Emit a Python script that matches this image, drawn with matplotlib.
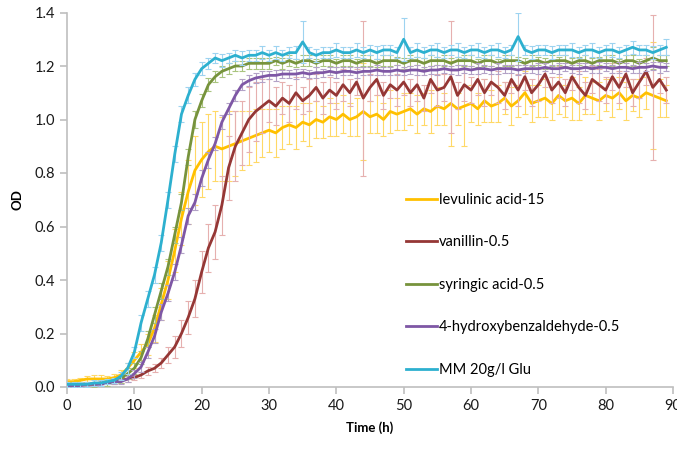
import numpy as np
import matplotlib
matplotlib.use('Agg')
import matplotlib.pyplot as plt

plt.rcParams['font.family'] = ['Lato', 'DejaVu Sans']

# sampling times (h)
hours = list(range(90))

# OD readings, one value per hour
levulinic = [
	0.02, 0.02, 0.025, 0.03, 0.03, 0.03, 0.03, 0.035, 0.045, 0.07,
	0.10, 0.13, 0.16, 0.22, 0.31, 0.40, 0.51, 0.63, 0.73, 0.81,
	0.85, 0.88, 0.90, 0.89, 0.90, 0.91, 0.92, 0.93, 0.94, 0.95,
	0.96, 0.95, 0.97, 0.98, 0.97, 0.99, 0.98, 1.00, 0.99, 1.01,
	1.00, 1.02, 1.00, 1.01, 1.03, 1.01, 1.02, 1.00, 1.03, 1.02,
	1.03, 1.04, 1.02, 1.04, 1.03, 1.05, 1.04, 1.06, 1.04, 1.05,
	1.06, 1.04, 1.07, 1.05, 1.06, 1.08, 1.05, 1.07, 1.10, 1.06,
	1.07, 1.08, 1.06, 1.09, 1.07, 1.08, 1.06, 1.09, 1.08, 1.07,
	1.09, 1.08, 1.10, 1.07, 1.09, 1.08, 1.10, 1.09, 1.08, 1.07]
vanillin = [
	0.01, 0.01, 0.01, 0.012, 0.012, 0.015, 0.015, 0.02, 0.025, 0.03,
	0.035, 0.045, 0.06, 0.07, 0.09, 0.12, 0.15, 0.20, 0.26, 0.33,
	0.43, 0.52, 0.58, 0.68, 0.82, 0.90, 0.95, 1.00, 1.03, 1.05,
	1.07, 1.05, 1.08, 1.06, 1.10, 1.07, 1.09, 1.12, 1.08, 1.11,
	1.09, 1.13, 1.10, 1.14, 1.08, 1.12, 1.15, 1.09, 1.13, 1.11,
	1.14, 1.10, 1.13, 1.08, 1.15, 1.11, 1.12, 1.16, 1.09, 1.13,
	1.11, 1.15, 1.10, 1.14, 1.12, 1.09, 1.15, 1.11, 1.16, 1.10,
	1.13, 1.17, 1.11, 1.14, 1.10, 1.16, 1.12, 1.09, 1.15, 1.13,
	1.11, 1.16, 1.12, 1.17, 1.10, 1.14, 1.18, 1.12, 1.15, 1.11]
syringic = [
	0.01, 0.01, 0.01, 0.01, 0.01, 0.015, 0.015, 0.02, 0.03, 0.05,
	0.07, 0.11, 0.18, 0.27, 0.36, 0.45, 0.57, 0.69, 0.86, 1.00,
	1.07, 1.13, 1.16, 1.18, 1.19, 1.20, 1.20, 1.21, 1.21, 1.21,
	1.21, 1.22, 1.21, 1.22, 1.21, 1.22, 1.22, 1.21, 1.22, 1.22,
	1.21, 1.22, 1.22, 1.21, 1.22, 1.22, 1.21, 1.22, 1.22, 1.22,
	1.21, 1.22, 1.22, 1.21, 1.22, 1.22, 1.22, 1.21, 1.22, 1.22,
	1.22, 1.21, 1.22, 1.22, 1.21, 1.22, 1.22, 1.22, 1.21, 1.22,
	1.22, 1.21, 1.22, 1.22, 1.22, 1.21, 1.22, 1.22, 1.21, 1.22,
	1.22, 1.22, 1.21, 1.22, 1.22, 1.21, 1.22, 1.23, 1.22, 1.22]
hydroxybenz = [
	0.005, 0.005, 0.005, 0.01, 0.01, 0.01, 0.015, 0.02, 0.02, 0.03,
	0.05, 0.075, 0.13, 0.19, 0.28, 0.35, 0.43, 0.53, 0.64, 0.69,
	0.78, 0.85, 0.91, 0.99, 1.04, 1.09, 1.13, 1.145, 1.155, 1.16,
	1.165, 1.165, 1.17, 1.17, 1.17, 1.175, 1.17, 1.175, 1.175, 1.18,
	1.175, 1.18, 1.18, 1.175, 1.18, 1.18, 1.185, 1.18, 1.18, 1.185,
	1.18, 1.185, 1.185, 1.18, 1.185, 1.185, 1.19, 1.185, 1.185, 1.19,
	1.185, 1.19, 1.19, 1.185, 1.19, 1.19, 1.19, 1.185, 1.19, 1.19,
	1.19, 1.195, 1.19, 1.19, 1.195, 1.19, 1.19, 1.195, 1.19, 1.195,
	1.195, 1.19, 1.195, 1.195, 1.19, 1.195, 1.195, 1.20, 1.195, 1.195]
mm_glu = [
	0.01, 0.01, 0.01, 0.01, 0.015, 0.015, 0.02, 0.025, 0.04, 0.07,
	0.13, 0.24, 0.33, 0.42, 0.54, 0.70, 0.87, 1.02, 1.09, 1.15,
	1.19, 1.21, 1.23, 1.22, 1.23, 1.24, 1.23, 1.24, 1.24, 1.25,
	1.24, 1.25, 1.24, 1.25, 1.25, 1.29, 1.25, 1.24, 1.25, 1.25,
	1.26, 1.25, 1.25, 1.26, 1.25, 1.26, 1.25, 1.26, 1.26, 1.25,
	1.30, 1.25, 1.26, 1.25, 1.26, 1.26, 1.25, 1.26, 1.26, 1.25,
	1.26, 1.26, 1.25, 1.26, 1.26, 1.25, 1.26, 1.31, 1.26, 1.25,
	1.26, 1.26, 1.25, 1.26, 1.26, 1.26, 1.25, 1.26, 1.26, 1.25,
	1.26, 1.26, 1.25, 1.26, 1.27, 1.26, 1.26, 1.25, 1.26, 1.27]

# standard deviations (error bars)
levulinic_err = [
	0.01, 0.01, 0.01, 0.01, 0.015, 0.015, 0.01, 0.015, 0.02, 0.02,
	0.03, 0.03, 0.04, 0.05, 0.06, 0.07, 0.08, 0.10, 0.12, 0.13,
	0.14, 0.14, 0.13, 0.12, 0.13, 0.12, 0.11, 0.10, 0.10, 0.09,
	0.08, 0.09, 0.08, 0.07, 0.08, 0.07, 0.08, 0.07, 0.06, 0.07,
	0.06, 0.07, 0.06, 0.07, 0.18, 0.06, 0.07, 0.06, 0.08, 0.06,
	0.07, 0.06, 0.07, 0.06, 0.08, 0.07, 0.06, 0.16, 0.06, 0.15,
	0.07, 0.06, 0.08, 0.06, 0.07, 0.06, 0.07, 0.06, 0.08, 0.07,
	0.06, 0.07, 0.06, 0.07, 0.06, 0.08, 0.06, 0.07, 0.06, 0.07,
	0.06, 0.07, 0.06, 0.07, 0.06, 0.07, 0.06, 0.20, 0.07, 0.06]
vanillin_err = [
	0.005, 0.005, 0.005, 0.005, 0.005, 0.005, 0.005, 0.01, 0.01, 0.01,
	0.01, 0.01, 0.015, 0.015, 0.02, 0.03, 0.04, 0.05, 0.06, 0.07,
	0.08, 0.09, 0.10, 0.11, 0.12, 0.13, 0.12, 0.12, 0.11, 0.10,
	0.08, 0.07, 0.06, 0.07, 0.06, 0.05, 0.06, 0.05, 0.06, 0.05,
	0.05, 0.06, 0.05, 0.05, 0.29, 0.05, 0.06, 0.05, 0.05, 0.06,
	0.05, 0.05, 0.06, 0.05, 0.05, 0.06, 0.05, 0.21, 0.05, 0.06,
	0.05, 0.06, 0.05, 0.05, 0.06, 0.05, 0.05, 0.06, 0.05, 0.05,
	0.06, 0.05, 0.05, 0.06, 0.05, 0.05, 0.06, 0.05, 0.05, 0.06,
	0.05, 0.05, 0.06, 0.05, 0.05, 0.06, 0.05, 0.27, 0.05, 0.05]
syringic_err = [
	0.01, 0.01, 0.01, 0.01, 0.01, 0.01, 0.01, 0.01, 0.015, 0.02,
	0.02, 0.025, 0.03, 0.03, 0.03, 0.03, 0.03, 0.03, 0.03, 0.03,
	0.025, 0.025, 0.02, 0.02, 0.02, 0.02, 0.02, 0.02, 0.02, 0.02,
	0.02, 0.015, 0.02, 0.02, 0.015, 0.02, 0.02, 0.015, 0.02, 0.02,
	0.015, 0.02, 0.02, 0.015, 0.02, 0.02, 0.015, 0.02, 0.02, 0.015,
	0.02, 0.02, 0.015, 0.02, 0.02, 0.015, 0.02, 0.02, 0.015, 0.02,
	0.02, 0.015, 0.02, 0.02, 0.015, 0.02, 0.02, 0.015, 0.02, 0.02,
	0.015, 0.02, 0.02, 0.015, 0.02, 0.02, 0.015, 0.02, 0.02, 0.015,
	0.02, 0.02, 0.015, 0.02, 0.02, 0.015, 0.02, 0.04, 0.02, 0.02]
hydroxybenz_err = [
	0.005, 0.005, 0.005, 0.005, 0.005, 0.005, 0.005, 0.01, 0.01, 0.01,
	0.015, 0.02, 0.02, 0.025, 0.03, 0.03, 0.03, 0.03, 0.03, 0.03,
	0.03, 0.03, 0.025, 0.025, 0.02, 0.02, 0.02, 0.02, 0.02, 0.02,
	0.015, 0.02, 0.015, 0.015, 0.02, 0.015, 0.015, 0.02, 0.015, 0.015,
	0.02, 0.015, 0.015, 0.02, 0.015, 0.015, 0.02, 0.015, 0.015, 0.02,
	0.015, 0.015, 0.02, 0.015, 0.015, 0.02, 0.015, 0.015, 0.02, 0.015,
	0.015, 0.02, 0.015, 0.015, 0.02, 0.015, 0.015, 0.02, 0.015, 0.015,
	0.02, 0.015, 0.015, 0.02, 0.015, 0.015, 0.02, 0.015, 0.015, 0.02,
	0.015, 0.015, 0.02, 0.015, 0.015, 0.02, 0.015, 0.015, 0.02, 0.015]
mm_glu_err = [
	0.01, 0.01, 0.01, 0.01, 0.01, 0.01, 0.01, 0.01, 0.015, 0.02,
	0.02, 0.03, 0.03, 0.03, 0.03, 0.03, 0.03, 0.03, 0.03, 0.025,
	0.025, 0.02, 0.02, 0.025, 0.02, 0.02, 0.025, 0.02, 0.02, 0.025,
	0.02, 0.025, 0.02, 0.02, 0.025, 0.08, 0.02, 0.025, 0.02, 0.02,
	0.025, 0.02, 0.02, 0.025, 0.02, 0.02, 0.025, 0.02, 0.02, 0.02,
	0.08, 0.02, 0.025, 0.02, 0.02, 0.025, 0.02, 0.02, 0.025, 0.02,
	0.02, 0.025, 0.02, 0.02, 0.025, 0.02, 0.02, 0.09, 0.02, 0.025,
	0.02, 0.02, 0.025, 0.02, 0.02, 0.025, 0.02, 0.02, 0.025, 0.02,
	0.02, 0.025, 0.02, 0.02, 0.025, 0.02, 0.02, 0.025, 0.02, 0.03]

labels = ['levulinic acid-15', 'vanillin-0.5', 'syringic acid-0.5',
	'4-hydroxybenzaldehyde-0.5', 'MM 20g/l Glu']
series = [levulinic, vanillin, syringic, hydroxybenz, mm_glu]
errors = [levulinic_err, vanillin_err, syringic_err, hydroxybenz_err, mm_glu_err]
line_colors = ['#FFC000', '#953735', '#77933C', '#7E57A5', '#2DB0CF']
err_colors = ['#FFD966', '#E6B0AF', '#A9C47F', '#B3A2C7', '#9DD3F0']

fig = plt.figure(figsize=(6.77, 4.5), dpi=100)
ax = fig.add_axes([67/677, 63/450, 606/677, 374.5/450])

for i in range(len(series)):
	ax.errorbar(hours, series[i], yerr=errors[i], color=line_colors[i],
		ecolor=err_colors[i], elinewidth=0.8, capsize=2, capthick=0.8,
		linewidth=2, label=labels[i], zorder=2 + i)

ax.set_xlim(0, 90)
ax.set_ylim(0, 1.4)
ax.set_xticks(range(0, 91, 10))
ax.set_yticks(np.arange(0, 1.41, 0.2))
ax.set_yticklabels(['%.1f' % v for v in np.arange(0, 1.41, 0.2)])

for side in ['top', 'right']:
	ax.spines[side].set_visible(False)
for side in ['left', 'bottom']:
	ax.spines[side].set_color('#BFBFBF')
	ax.spines[side].set_linewidth(1.2)
ax.tick_params(axis='both', colors='#BFBFBF', labelcolor='#1a1a1a',
	labelsize=10.5, length=5, width=1.2)

ax.set_xlabel('Time (h)', fontsize=9.5, fontweight='bold', labelpad=6)
ax.set_ylabel('OD', fontsize=9.5, fontweight='bold', labelpad=8)

# legend without error bars: plain line handles
handles = [plt.Line2D([], [], color=c, linewidth=2) for c in line_colors]
fig.legend(handles, labels, loc='upper left', bbox_to_anchor=(406/677, 1 - 193/450),
	frameon=False, fontsize=10.5, labelspacing=1.95, handlelength=2.1,
	handletextpad=0.15, borderpad=0, borderaxespad=0)

fig.savefig('out.png', dpi=100)
